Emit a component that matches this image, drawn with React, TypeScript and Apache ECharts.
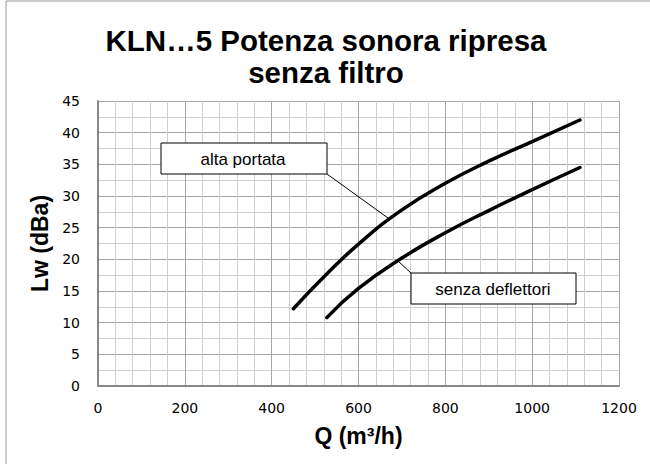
import React, { useEffect, useRef } from "react";
import * as echarts from "echarts";

const titleLines = ["KLN…5 Potenza sonora ripresa", "senza filtro"];
const xAxisName = "Q (m³/h)";
const yAxisName = "Lw (dBa)";
const seriesNames = ["alta portata", "senza deflettori"];

const altaPortata: [number, number][] = [
  [450, 12.2], [520, 17.2], [600, 22.4], [700, 27.8], [800, 32.0], [900, 35.5],
  [1000, 38.6], [1110, 42.0],
];
const senzaDeflettori: [number, number][] = [
  [527, 10.8], [600, 15.4], [700, 20.2], [800, 24.2], [900, 27.7], [1000, 31.0],
  [1110, 34.5],
];

export default function App() {
  const ref = useRef<HTMLDivElement>(null);
  useEffect(() => {
    document.body.style.margin = "0";
    const chart = echarts.init(ref.current!, null, { renderer: "svg" });
    const font = "Liberation Sans, Arial, sans-serif";
    const tickFont = "DejaVu Sans, Verdana, sans-serif";
    const makeSeries = (name: string, data: [number, number][]) => ({
      name,
      type: "line",
      data,
      smooth: 0.5,
      showSymbol: false,
      symbol: "none",
      lineStyle: { color: "#000", width: 3.5, cap: "round" },
    });
    chart.setOption({
      animation: false,
      backgroundColor: "#fff",
      grid: { left: 98, right: 31, top: 101, bottom: 78, containLabel: false },
      xAxis: {
        type: "value",
        min: 0,
        max: 1200,
        interval: 200,
        name: xAxisName,
        nameLocation: "middle",
        nameGap: 38,
        nameTextStyle: { fontFamily: font, fontWeight: "bold", fontSize: 23, color: "#000" },
        axisLine: { show: true, lineStyle: { color: "#888", width: 2 } },
        axisTick: { show: false },
        axisLabel: {
          fontFamily: tickFont,
          fontSize: 14,
          color: "#000",
          margin: 15,
          formatter: (v: number) => String(v),
        },
        splitLine: { show: true, lineStyle: { color: "#a6a6a6", width: 1 } },
        minorTick: { show: false, splitNumber: 5 },
        minorSplitLine: { show: true, lineStyle: { color: "#cfcfcf", width: 1 } },
      },
      yAxis: {
        type: "value",
        min: 0,
        max: 45,
        interval: 5,
        name: yAxisName,
        nameLocation: "middle",
        nameGap: 40,
        nameRotate: 90,
        nameTextStyle: { fontFamily: font, fontWeight: "bold", fontSize: 23, color: "#000" },
        axisLine: { show: true, lineStyle: { color: "#888", width: 2 } },
        axisTick: { show: false },
        axisLabel: {
          fontFamily: tickFont,
          fontSize: 14,
          color: "#000",
          margin: 18,
          formatter: (v: number) => String(v),
        },
        splitLine: { show: true, lineStyle: { color: "#a6a6a6", width: 1 } },
        minorTick: { show: false, splitNumber: 2 },
        minorSplitLine: { show: true, lineStyle: { color: "#cfcfcf", width: 1 } },
      },
      series: [makeSeries(seriesNames[0], altaPortata), makeSeries(seriesNames[1], senzaDeflettori)],
      graphic: [
        {
          type: "rect",
          shape: { x: 6, y: 1, width: 700, height: 520 },
          style: { fill: "none", stroke: "#999", lineWidth: 1 },
          silent: true,
          z: 0,
        },
        {
          type: "text",
          x: 326,
          y: 40,
          style: {
            text: titleLines[0],
            fontFamily: font,
            fontWeight: "bold",
            fontSize: 29.5,
            fill: "#000",
            align: "center",
            verticalAlign: "middle",
          },
        },
        {
          type: "text",
          x: 326,
          y: 72,
          style: {
            text: titleLines[1],
            fontFamily: font,
            fontWeight: "bold",
            fontSize: 29.5,
            fill: "#000",
            align: "center",
            verticalAlign: "middle",
          },
        },
        {
          type: "line",
          shape: { x1: 327, y1: 174, x2: 388, y2: 218 },
          style: { stroke: "#000", lineWidth: 1 },
          z: 10,
        },
        {
          type: "rect",
          shape: { x: 161, y: 143, width: 166, height: 31 },
          style: { fill: "#fff", stroke: "#000", lineWidth: 1 },
          z: 10,
        },
        {
          type: "text",
          x: 243,
          y: 159,
          style: {
            text: seriesNames[0],
            fontFamily: font,
            fontSize: 17,
            fill: "#000",
            align: "center",
            verticalAlign: "middle",
          },
          z: 11,
        },
        {
          type: "line",
          shape: { x1: 411, y1: 273, x2: 399, y2: 262 },
          style: { stroke: "#000", lineWidth: 1 },
          z: 10,
        },
        {
          type: "rect",
          shape: { x: 411, y: 273, width: 165, height: 31 },
          style: { fill: "#fff", stroke: "#000", lineWidth: 1 },
          z: 10,
        },
        {
          type: "text",
          x: 493,
          y: 289,
          style: {
            text: seriesNames[1],
            fontFamily: font,
            fontSize: 17,
            fill: "#000",
            align: "center",
            verticalAlign: "middle",
          },
          z: 11,
        },
      ],
    });
    return () => chart.dispose();
  }, []);
  return (
    <div
      ref={ref}
      style={{ position: "absolute", left: 0, top: 0, width: 650, height: 464 }}
    />
  );
}
